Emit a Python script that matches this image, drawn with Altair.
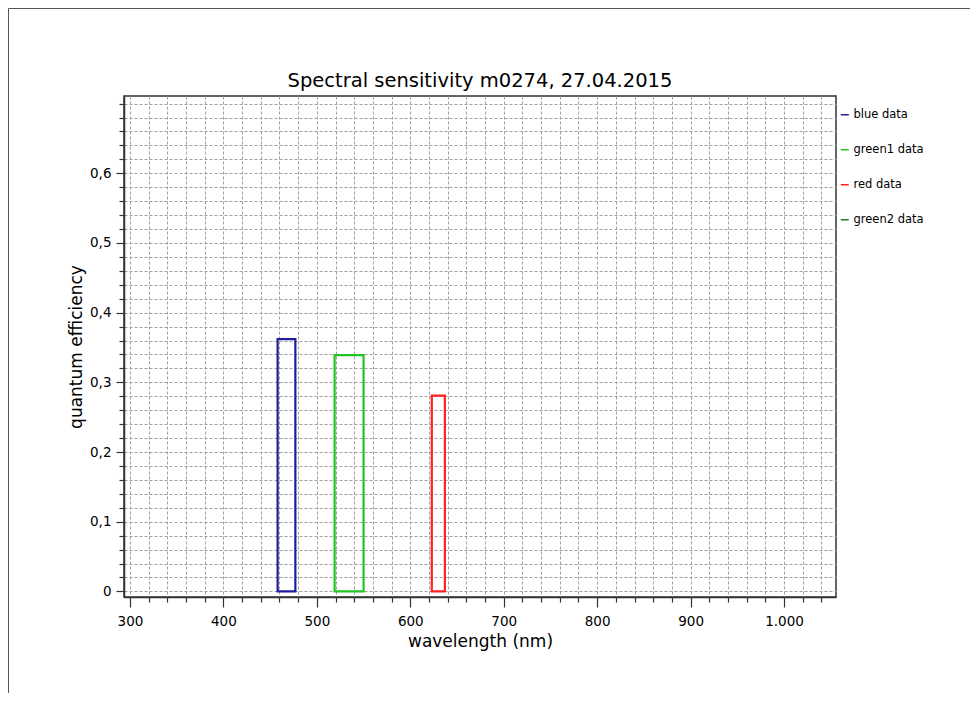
import altair as alt
import pandas as pd

# ---- data ----
series = ["blue data", "green1 data", "red data"]
x_start = [458, 519, 623]
x_end = [477, 550, 637]
qe = [0.362, 0.339, 0.281]
legend_series = ["blue data", "green1 data", "red data", "green2 data"]
legend_colors = ["#1c1c9c", "#22c422", "#ff2020", "#1e7e1e"]
title_text = "Spectral sensitivity m0274, 27.04.2015"

x_ticks = list(range(300, 1041, 20))
y_ticks = [round(i * 0.02, 2) for i in range(36)]

df = pd.DataFrame({"series": series, "x0": x_start, "x1": x_end,
                   "low": [0.0] * len(series), "qe": qe})

FONT = "DejaVu Sans"

bars = alt.Chart(df).mark_rect(fillOpacity=0, strokeWidth=2.2).encode(
    x=alt.X("x0:Q", title="wavelength (nm)",
            scale=alt.Scale(domain=[293.6, 1055.6], nice=False, zero=False),
            axis=alt.Axis(values=x_ticks,
                          labelExpr="datum.value % 100 === 0 ? replace(format(datum.value, ','), ',', '.') : ''",
                          tickSize={"condition": {"test": "datum.value % 100 === 0", "value": 10}, "value": 5},
                          labelPadding=7, titlePadding=6, labelOverlap=False, labelFlush=False)),
    x2="x1:Q",
    y=alt.Y("low:Q", title="quantum efficiency",
            scale=alt.Scale(domain=[-0.008, 0.7109], nice=False, zero=False),
            axis=alt.Axis(values=y_ticks,
                          labelExpr="(round(datum.value * 50) % 5 === 0 && datum.value < 0.65) ? replace(format(datum.value, '.1~f'), '.', ',') : ''",
                          tickSize={"condition": {"test": "round(datum.value * 50) % 5 === 0 && datum.value < 0.65", "value": 8}, "value": 5},
                          labelPadding=5, titlePadding=4, labelOverlap=False, labelFlush=False)),
    y2="qe:Q",
    stroke=alt.Stroke("series:N", title=None,
                      scale=alt.Scale(domain=legend_series, range=legend_colors),
                      legend=alt.Legend(orient="none", legendX=715, legendY=13,
                                        symbolType="stroke", symbolSize=64,
                                        symbolStrokeWidth=1.5, labelFontSize=11.5,
                                        labelFont=FONT, labelColor="#000",
                                        rowPadding=22, labelOffset=3, padding=0)),
)

one = alt.Data(values=[{"t": title_text}])
title = alt.Chart(one).mark_text(font=FONT, fontSize=19.5, color="#000",
                                 align="center", baseline="alphabetic").encode(
    text="t:N", x=alt.value(356), y=alt.value(-9.5))
frame_top = alt.Chart(one).mark_rule(color="#555", strokeWidth=1).encode(
    x=alt.value(-115.5), x2=alt.value(854), y=alt.value(-87.5))
frame_left = alt.Chart(one).mark_rule(color="#555", strokeWidth=1).encode(
    x=alt.value(-115.5), y=alt.value(-87.5), y2=alt.value(606))

chart = alt.layer(bars, title, frame_top, frame_left).properties(
    width=712, height=501,
    autosize=alt.AutoSizeParams(type="none"),
    padding={"left": 116, "top": 88, "right": 134, "bottom": 96},
).configure_view(
    stroke="#333", strokeWidth=1.5
).configure_axis(
    labelFont=FONT, labelFontSize=13.5, labelColor="#000",
    titleFont=FONT, titleFontSize=17, titleFontWeight="normal", titleColor="#000",
    domainColor="#333", domainWidth=1.5, tickColor="#333", tickWidth=1.2,
    gridColor="#a0a0a0", gridDash=[3, 2], gridWidth=1, grid=True,
)

chart.save("out.html", embed_options={"renderer": "svg", "actions": False})
